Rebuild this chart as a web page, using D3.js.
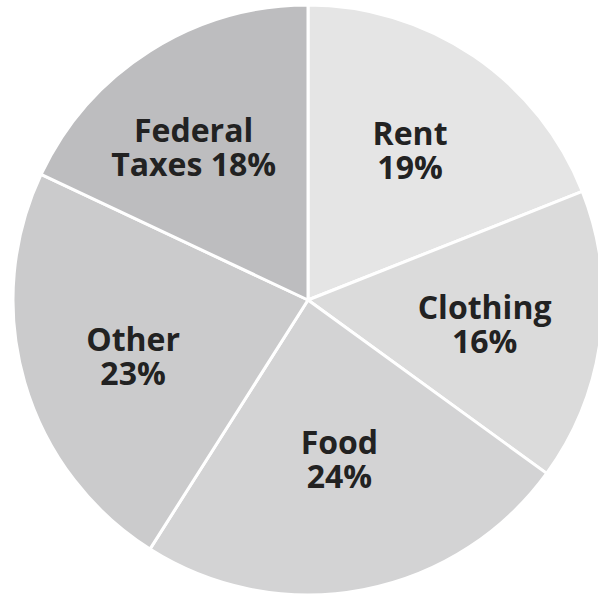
<!DOCTYPE html>
<html>
<head>
<meta charset="utf-8">
<script src="https://cdn.jsdelivr.net/npm/d3@7"></script>
<style>
  html, body { margin: 0; padding: 0; background: #ffffff; }
  svg { display: block; }
</style>
</head>
<body>
<svg id="chart" width="598" height="603"></svg>
<script>
// Household budget shares, clockwise from 12 o'clock
const categories = ["Rent", "Clothing", "Food", "Other", "Federal Taxes"];
const shares = [19, 16, 24, 23, 18];
const labelLines = [["Rent", "19%"], ["Clothing", "16%"], ["Food", "24%"], ["Other", "23%"], ["Federal", "Taxes 18%"]];
const fills = ["#e5e5e5", "#dbdbdb", "#d3d3d4", "#cbcbcc", "#bdbdbf"];

const svg = d3.select("#chart");
const cx = 308, cy = 300, radius = 295, labelRadius = 178;
// small hand adjustments so each label sits comfortably inside its slice
const labelNudge = [[2, 0], [0, 5], [-2, -13], [-4, 9], [-19, 0]];

const data = categories.map((c, i) => ({ name: c, value: shares[i], lines: labelLines[i], fill: fills[i], nudge: labelNudge[i] }));

const pie = d3.pie().value(d => d.value).sort(null);
const arc = d3.arc().innerRadius(0).outerRadius(radius);
const labelArc = d3.arc().innerRadius(labelRadius).outerRadius(labelRadius);

const g = svg.append("g").attr("transform", `translate(${cx},${cy})`);
const arcs = pie(data);

g.selectAll("path.slice")
  .data(arcs)
  .join("path")
  .attr("class", "slice")
  .attr("d", arc)
  .attr("fill", d => d.data.fill)
  .attr("stroke", "#ffffff")
  .attr("stroke-width", 3)
  .attr("stroke-linejoin", "round");

const labels = g.selectAll("text.label")
  .data(arcs)
  .join("text")
  .attr("class", "label")
  .attr("text-anchor", "middle")
  .attr("font-family", "'Open Sans', sans-serif")
  .attr("font-weight", 700)
  .attr("font-size", 32)
  .attr("fill", "#222222")
  .attr("transform", d => {
    const [x, y] = labelArc.centroid(d);
    return `translate(${x + d.data.nudge[0]},${y + d.data.nudge[1]})`;
  });

labels.selectAll("tspan")
  .data(d => d.data.lines)
  .join("tspan")
  .attr("x", 0)
  .attr("y", (t, i) => i === 0 ? -8 : 26)
  .text(t => t);
</script>
</body>
</html>
